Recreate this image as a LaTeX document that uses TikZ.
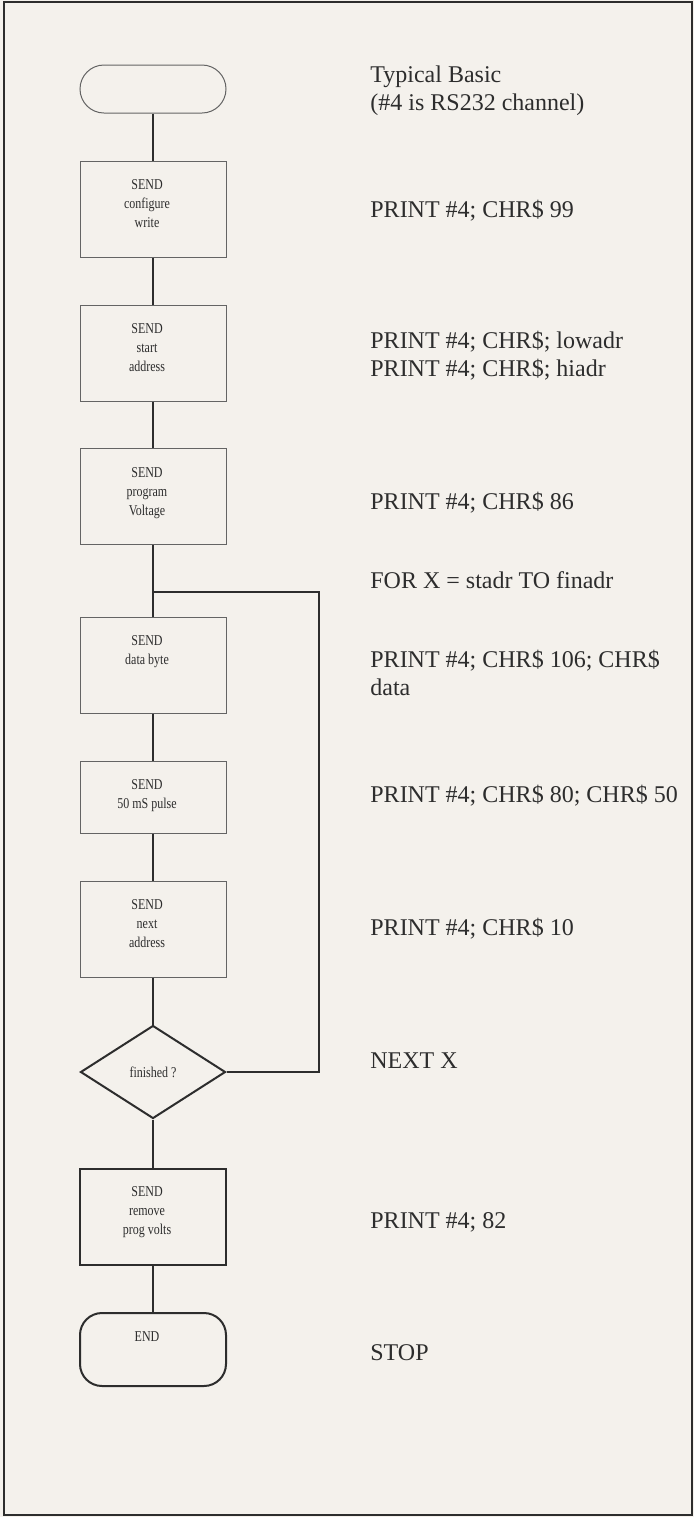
\documentclass[tikz,border=0pt]{standalone}
\usepackage{fontspec}
\setmainfont{Liberation Serif}
\newfontfamily\boxfont[FakeStretch=0.8]{Liberation Serif}
\usetikzlibrary{shapes.geometric}
\definecolor{paper}{RGB}{244,241,236}
\definecolor{ink}{RGB}{45,45,45}
\definecolor{boxline}{RGB}{100,100,100}

\begin{document}
\begin{tikzpicture}[x=0.5pt,y=-0.5pt,
  sendbox/.style={draw=boxline,line width=0.5pt,minimum width=73pt,minimum height=48pt,inner sep=0pt},
  boldbox/.style={sendbox,draw=ink,line width=1pt},
  boxtext/.style={anchor=north,align=center,inner sep=0pt,text=ink,font=\boxfont\fontsize{7.5}{9.5}\selectfont},
  decision/.style={diamond,draw=ink,line width=1pt,minimum width=72.5pt,minimum height=46.5pt,inner sep=0pt,text=ink,font=\boxfont\fontsize{7.5}{9.5}\selectfont},
  basic/.style={anchor=base west,align=left,inner sep=0pt,text=ink,font=\fontsize{12}{14}\selectfont},
  flow/.style={draw=ink,line width=1pt}]
  \useasboundingbox (0,0) rectangle (694,1517);
  \fill[paper] (0,0) rectangle (694,1517);
  \draw[ink,line width=1pt] (4,2) rectangle (692,1515);

  % flow chart
  \node[sendbox,rounded corners=12pt,minimum height=24pt] (start) at (153,89) {};
  \node[sendbox] (conf) at (153,209) {};
  \node[boxtext] (confT) at ([xshift=-3pt,yshift=-9.5pt]conf.north) {SEND\\configure\\write};
  \node[sendbox] (addr) at (153,353) {};
  \node[boxtext] (addrT) at ([xshift=-3pt,yshift=-9.5pt]addr.north) {SEND\\start\\address};
  \node[sendbox] (volt) at (153,496.5) {};
  \node[boxtext] (voltT) at ([xshift=-3pt,yshift=-9.5pt]volt.north) {SEND\\program\\Voltage};
  \node[sendbox] (data) at (153,665) {};
  \node[boxtext] (dataT) at ([xshift=-3pt,yshift=-9.5pt]data.north) {SEND\\data byte};
  \node[sendbox,minimum height=36pt] (pulse) at (153,797) {};
  \node[boxtext] (pulseT) at ([xshift=-3pt,yshift=-9.5pt]pulse.north) {SEND\\50 mS pulse};
  \node[sendbox] (next) at (153,929) {};
  \node[boxtext] (nextT) at ([xshift=-3pt,yshift=-9.5pt]next.north) {SEND\\next\\address};
  \node[decision] (fin) at (153,1072) {finished ?};
  \node[boldbox] (prog) at (153,1216.5) {};
  \node[boxtext] (progT) at ([xshift=-3pt,yshift=-9.5pt]prog.north) {SEND\\remove\\prog volts};
  \node[boldbox,rounded corners=11pt,minimum height=36.5pt] (stop) at (153,1349.5) {};
  \node[boxtext] (stopT) at ([xshift=-3pt,yshift=-9.5pt]stop.north) {END};

  \coordinate (loop) at (153,592);
  \coordinate (loopr) at (319,592);

  \draw[flow] (start) -- (conf);
  \draw[flow] (conf) -- (addr);
  \draw[flow] (addr) -- (volt);
  \draw[flow] (volt) -- (data);
  \draw[flow] (data) -- (pulse);
  \draw[flow] (pulse) -- (next);
  \draw[flow] (next) -- (fin);
  \draw[flow] (fin) -- (prog);
  \draw[flow] (prog) -- (stop);
  \draw[flow] (fin.east) -| (loopr) -- (loop);

  % basic listing (base of a two-line node is its last line)
  \node[basic] (head) at (370,110) {Typical Basic\\(\#4 is RS232 channel)};
  \node[basic] (l99) at (370,217) {PRINT \#4; CHR\$ 99};
  \node[basic] (ladr) at (370,376) {PRINT \#4; CHR\$; lowadr\\PRINT \#4; CHR\$; hiadr};
  \node[basic] (l86) at (370,509) {PRINT \#4; CHR\$ 86};
  \node[basic] (lfor) at (370,588) {FOR X = stadr TO finadr};
  \node[basic] (l106) at (370,695) {PRINT \#4; CHR\$ 106; CHR\$\\data};
  \node[basic] (l80) at (370,802) {PRINT \#4; CHR\$ 80; CHR\$ 50};
  \node[basic] (l10) at (370,935) {PRINT \#4; CHR\$ 10};
  \node[basic] (lnext) at (370,1068) {NEXT X};
  \node[basic] (l82) at (370,1228) {PRINT \#4; 82};
  \node[basic] (lstop) at (370,1360) {STOP};
\end{tikzpicture}
\end{document}
